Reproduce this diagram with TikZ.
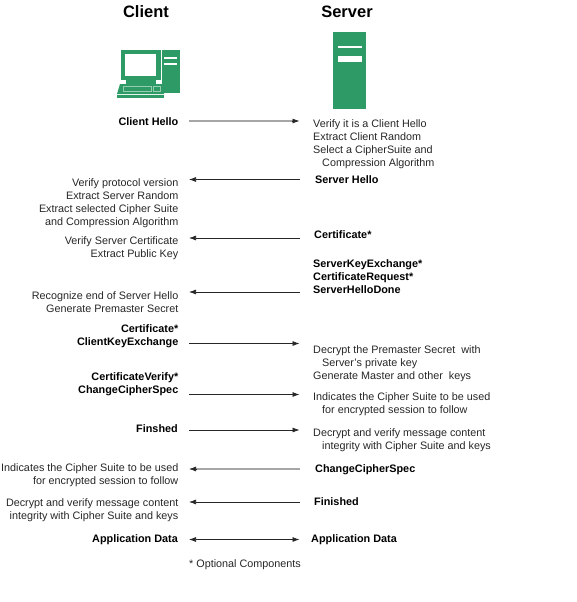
\documentclass[tikz,border=0pt]{standalone}
\usepackage{fontspec}
\setmainfont{Liberation Sans}
\usetikzlibrary{arrows.meta}
\definecolor{grn}{RGB}{46,155,102}
\tikzset{
  x=1pt,y=-1pt,
  lab/.style={font=\fontsize{10.8pt}{13pt}\selectfont,inner sep=0pt,text=black!85},
  rl/.style={lab,anchor=east,align=right},
  ll/.style={lab,anchor=west,align=left},
  bl/.style={lab,font=\fontsize{10.85pt}{13pt}\selectfont\bfseries,text=black},
  brl/.style={bl,anchor=east,align=right},
  bll/.style={bl,anchor=west,align=left},
  head/.style={font=\fontsize{16.5pt}{18pt}\selectfont\bfseries,inner sep=0pt},
  msg/.style={draw=black!85,line width=0.7pt,-{Latex[length=7pt,width=5pt]}},
  msgb/.style={msg,{Latex[length=7pt,width=5pt]}-{Latex[length=7pt,width=5pt]}},
  msgg/.style={draw=black!35,line width=1.8pt},
  gfill/.style={fill=grn,draw=none},
  wfill/.style={fill=white,draw=none}
}
\begin{document}
\begin{tikzpicture}
\useasboundingbox (0,0) rectangle (576,602);
\node[head] (client) at (146,12) {Client};
\node[head] (server) at (347,12) {Server};
% client computer
\path[gfill] (162,50) rectangle (179.5,93);
\path[wfill] (164,57) rectangle (177,59);
\path[wfill] (164,63) rectangle (177,65);
\path[gfill] (121,50) rectangle (160.5,80);
\path[wfill] (125,54) rectangle (156,76);
\path[gfill] (126,80) rectangle (156,84);
\path[gfill] (120,84) -- (164,84) -- (164,94) -- (117,94) -- cycle;
\path[gfill] (117,95) rectangle (164,98);
\draw[white!50!grn,line width=0.5pt] (123,86) rectangle (151,91);
\draw[white!50!grn,line width=0.5pt] (153,86) rectangle (160,91);
% server
\path[gfill] (333,32) rectangle (366,108.5);
\path[wfill] (338,46) rectangle (362,48);
\path[wfill] (338,56) rectangle (362,62.5);
% labels left
\node[brl] (c1) at (178.5,121.5) {Client Hello};
\node[rl] (c2) at (178.5,203) {Verify protocol version\\Extract Server Random\\Extract selected Cipher Suite\\and Compression Algorithm};
\node[rl] (c3) at (178.5,248) {Verify Server Certificate\\Extract Public Key};
\node[rl] (c4) at (178.5,302) {Recognize end of Server Hello\\Generate Premaster Secret};
\node[brl] (c5) at (178.5,336.5) {Certificate*\\ClientKeyExchange};
\node[brl] (c6) at (178.5,384) {CertificateVerify*\\ChangeCipherSpec};
\node[brl] (c7) at (178,429) {Finshed};
\node[rl] (c8) at (178.5,475.5) {Indicates the Cipher Suite to be used\\for encrypted session to follow};
\node[rl] (c9) at (178.5,510.5) {Decrypt and verify message content\\integrity with Cipher Suite and keys};
\node[brl] (c10) at (178,540) {Application Data};
% labels right
\node[ll] (s1) at (313,144) {Verify it is a Client Hello\\Extract Client Random\\Select a CipherSuite and\\\hspace{9pt}Compression Algorithm};
\node[bll] (s2) at (315,180) {Server Hello};
\node[bll] (s3) at (314,234.5) {Certificate*};
\node[bll] (s4) at (313,276.5) {ServerKeyExchange*\\CertificateRequest*\\ServerHelloDone};
\node[ll] (s5) at (313,364) {Decrypt the Premaster Secret\ \ with\\\hspace{9pt}Server's private key\\Generate Master and other\ \ keys};
\node[ll] (s6) at (313,404.5) {Indicates the Cipher Suite to be used\\\hspace{9pt}for encrypted session to follow};
\node[ll] (s7) at (313,440.5) {Decrypt and verify message content\\\hspace{9pt}integrity with Cipher Suite and keys};
\node[bll] (s8) at (315,469.5) {ChangeCipherSpec};
\node[bll] (s9) at (314,501.5) {Finished};
\node[bll] (s10) at (311,539.5) {Application Data};
\node[lab,anchor=west] (note) at (189,565) {* Optional Components};
% arrow anchors
\foreach \n/\y in {a/121,b/179.5,c/238,d/292,e/343.5,f/394.5,g/430,h/469,i/502,j/539.5}{
  \coordinate (l\n) at (189,\y);
  \coordinate (r\n) at (299.5,\y);
}
\draw[msgg] (la) -- ([xshift=-6pt]ra);
\draw[msg] ([xshift=-8pt]ra) -- (ra);
\draw[msg] (rb) -- (lb);
\draw[msg] (rc) -- (lc);
\draw[msg] (rd) -- (ld);
\draw[msg] (le) -- (re);
\draw[msg] (lf) -- (rf);
\draw[msg] (lg) -- (rg);
\draw[msgg] (rh) -- ([xshift=6pt]lh);
\draw[msg] ([xshift=8pt]lh) -- (lh);
\draw[msg] (ri) -- (li);
\draw[msgb] (lj) -- (rj);
\end{tikzpicture}
\end{document}
